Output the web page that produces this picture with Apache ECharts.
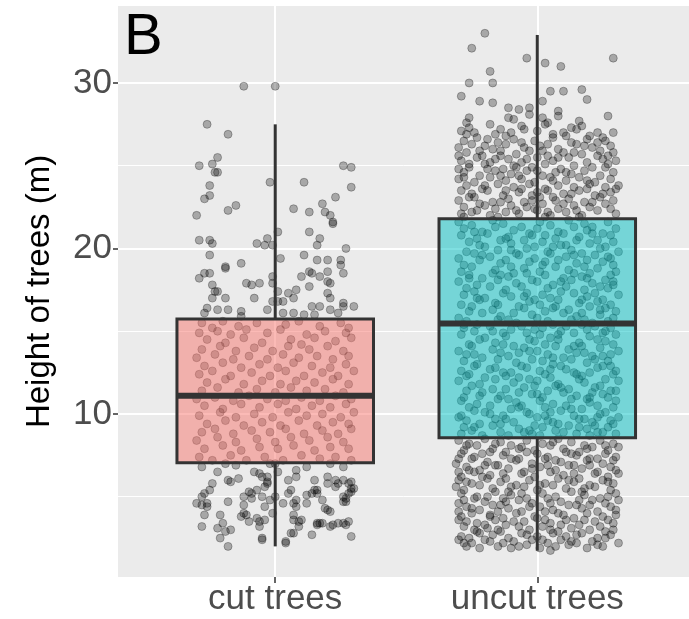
<!DOCTYPE html>
<html>
<head>
<meta charset="utf-8">
<script src="https://cdn.jsdelivr.net/npm/echarts@6/dist/echarts.min.js"></script>
<style>
  html, body { margin: 0; padding: 0; background: #fff; }
  #js-echarts { width: 689px; height: 619px; }
</style>
</head>
<body>
<div id="js-echarts"></div>
<script>
const categories = ['cut trees', 'uncut trees'];
const boxLow = [2.0, 1.74];
const boxQ1 = [7.06, 8.57];
const boxMed = [11.1, 15.46];
const boxQ3 = [15.74, 21.8];
const boxHigh = [27.5, 32.9];
const yTickValues = [10, 20, 30];
const yMinorValues = [5, 15, 25];
const xTickValues = [1, 2];

// jittered observations, [x position, height]
const cutPoints = [
  [0.88,29.8],[1.00,29.8],[0.74,27.5],[0.82,26.9],[0.78,25.5],[0.71,25.0],[0.76,25.1],[0.77,24.6],[0.78,24.6],[0.75,23.8],
  [0.75,23.2],[0.73,23.0],[0.70,22.0],[0.82,22.3],[0.85,22.6],[0.98,24.0],[1.11,24.0],[1.26,25.0],[1.29,24.9],[1.29,23.7],
  [1.23,23.1],[1.18,22.7],[1.19,22.2],[1.21,22.0],[1.22,21.5],[1.22,21.6],[1.07,22.4],[1.13,22.2],[1.01,21.0],[1.13,21.0],
  [1.17,20.6],[1.16,20.2],[1.27,20.0],[1.11,19.6],[1.16,19.3],[1.20,19.3],[1.25,19.3],[1.25,19.0],[1.26,18.5],[1.20,18.6],
  [1.13,18.6],[1.14,18.5],[1.10,18.3],[1.17,18.3],[1.20,18.0],[1.21,17.9],[1.13,17.7],[1.20,17.3],[1.21,17.0],[1.26,16.7],
  [1.30,16.5],[1.26,16.5],[1.21,16.3],[1.14,16.5],[1.17,16.5],[1.11,16.0],[1.15,16.0],[1.24,16.1],[0.71,20.5],[0.75,20.5],
  [0.76,20.3],[0.75,19.6],[0.87,19.1],[0.81,18.8],[0.81,18.9],[0.73,18.5],[0.75,18.5],[0.71,18.2],[0.76,17.8],[0.77,17.4],
  [0.78,17.4],[0.76,17.0],[0.81,17.0],[0.74,16.4],[0.78,16.3],[0.82,16.3],[0.73,16.1],[0.87,16.2],[0.87,15.9],[0.89,17.9],
  [0.91,17.8],[0.94,17.9],[0.92,17.0],[0.93,20.3],[0.96,20.2],[0.97,20.6],[0.99,20.2],[1.02,19.4],[0.99,18.3],[0.99,17.9],
  [1.01,17.4],[1.05,17.3],[1.07,17.0],[1.08,17.5],[0.99,16.8],[1.01,16.8],[1.03,16.8],[0.97,16.3],[1.03,16.1],[1.07,16.1],
  [0.72,15.5],[0.80,15.6],[0.86,15.3],[0.93,15.5],[1.04,15.4],[1.09,15.6],[1.17,15.3],[1.25,15.5],[1.28,15.2],[0.76,15.2],
  [0.71,14.9],[0.78,15.0],[0.83,14.8],[0.89,15.1],[0.97,14.9],[1.02,15.1],[1.12,14.8],[1.19,15.0],[1.27,14.9],
  [0.74,14.5],[0.81,14.3],[0.88,14.6],[0.95,14.3],[1.06,14.5],[1.10,14.2],[1.15,14.6],[1.23,14.4],[1.29,14.6],
  [0.72,13.9],[0.79,14.1],[0.85,13.8],[0.92,14.0],[0.99,13.8],[1.05,14.1],[1.13,13.9],[1.20,14.1],[1.26,13.8],
  [0.70,13.4],[0.77,13.6],[0.84,13.3],[0.90,13.5],[0.97,13.3],[1.03,13.6],[1.09,13.4],[1.16,13.5],[1.22,13.3],[1.28,13.5],
  [0.73,12.9],[0.80,13.1],[0.87,12.8],[0.94,13.0],[1.01,12.8],[1.07,13.1],[1.14,12.9],[1.21,12.8],[1.27,13.0],
  [0.71,12.4],[0.76,12.6],[0.83,12.3],[0.91,12.5],[0.98,12.3],[1.04,12.6],[1.11,12.3],[1.18,12.5],[1.24,12.3],[1.30,12.6],
  [0.74,11.9],[0.81,12.1],[0.88,11.8],[0.95,12.0],[1.02,11.8],[1.08,12.0],[1.15,11.9],[1.22,12.1],[1.28,11.8],
  [0.72,11.4],[0.78,11.6],[0.86,11.3],[0.93,11.5],[1.00,11.3],[1.06,11.6],[1.12,11.4],[1.19,11.5],[1.26,11.3],
  [0.70,10.9],[0.77,11.0],[0.84,10.8],[0.90,11.1],[0.97,10.9],[1.04,10.8],[1.10,11.0],[1.17,10.8],[1.23,11.1],[1.29,10.9],
  [0.73,10.5],[0.80,10.3],[0.87,10.6],[0.94,10.4],[1.01,10.6],[1.08,10.3],[1.14,10.5],[1.21,10.4],[1.27,10.6],
  [0.71,9.9],[0.79,10.1],[0.85,9.8],[0.92,10.0],[0.99,9.8],[1.05,10.1],[1.12,9.9],[1.18,10.0],[1.25,9.8],[1.30,10.1],
  [0.74,9.4],[0.81,9.6],[0.88,9.3],[0.95,9.5],[1.02,9.3],[1.09,9.6],[1.16,9.3],[1.22,9.5],[1.28,9.4],
  [0.72,8.9],[0.77,9.1],[0.84,8.8],[0.91,9.0],[0.98,8.9],[1.04,9.1],[1.11,8.8],[1.18,9.0],[1.24,8.8],[1.29,9.1],
  [0.70,8.4],[0.78,8.6],[0.85,8.3],[0.93,8.5],[1.00,8.3],[1.06,8.6],[1.13,8.4],[1.20,8.6],[1.26,8.3],
  [0.73,7.9],[0.80,8.1],[0.87,7.8],[0.94,8.0],[1.01,7.9],[1.07,8.1],[1.15,7.8],[1.21,8.0],[1.28,7.9],
  [0.71,7.4],[0.76,7.2],[0.83,7.5],[0.89,7.2],[0.96,7.4],[1.03,7.2],[1.10,7.5],[1.17,7.3],[1.23,7.4],[1.29,7.2],
  [0.72,6.8],[0.78,6.5],[0.76,5.8],[0.82,6.0],[0.83,5.9],[0.86,6.1],[0.85,6.9],[0.81,7.0],[0.92,6.5],[0.94,6.4],
  [0.95,6.2],[0.97,6.2],[0.97,5.8],[0.96,5.6],[0.98,7.0],[1.00,7.0],[1.01,6.5],[1.05,6.0],[1.08,6.2],[1.08,6.6],
  [1.12,6.8],[1.15,6.0],[1.16,5.4],[1.14,5.2],[1.20,6.2],[1.20,5.8],[1.23,6.0],[1.23,5.6],[1.26,6.0],[1.28,5.8],
  [1.29,5.9],[1.29,5.5],[1.28,5.2],[1.27,4.9],[1.26,4.7],[1.21,7.0],[1.26,6.8],[0.75,5.4],[0.73,5.2],[0.72,5.0],
  [0.74,4.6],[0.70,4.6],[0.72,4.5],[0.74,4.4],[0.82,4.7],[0.79,3.9],[0.73,3.9],[0.72,3.2],[0.78,3.1],[0.80,3.4],
  [0.83,3.0],[0.81,2.9],[0.79,2.5],[0.82,2.0],[0.88,5.0],[0.90,5.3],[0.91,4.9],[0.88,4.5],[0.91,5.2],[0.88,4.0],
  [0.89,3.9],[0.90,3.5],[0.87,3.8],[0.93,5.4],[0.95,5.0],[0.98,4.8],[0.96,4.4],[0.93,3.7],[0.94,3.5],[0.96,3.6],
  [0.94,3.2],[0.95,2.5],[0.99,4.0],[1.00,5.0],[0.97,5.9],[1.03,4.6],[1.05,5.2],[1.06,5.4],[1.07,4.6],[1.08,4.8],
  [1.08,4.4],[1.07,3.9],[1.07,3.6],[1.09,3.5],[1.10,3.6],[1.06,2.8],[1.07,2.8],[1.09,3.2],[1.04,2.3],[1.12,5.1],
  [1.12,4.6],[1.15,5.4],[1.16,5.2],[1.18,4.8],[1.19,4.3],[1.20,4.2],[1.21,4.1],[1.18,3.4],[1.16,3.3],[1.16,3.4],
  [1.14,2.7],[1.17,3.4],[1.24,5.8],[1.26,5.0],[1.27,4.7],[1.29,5.3],[1.30,5.5],[1.24,3.4],[1.26,3.4],[1.27,3.3],
  [1.28,3.5],[1.29,2.6],[1.21,3.2],[1.22,3.3],[1.04,2.2],[0.95,2.4]
];

const uncutPoints = [
  [1.80,33.0],[1.75,32.1],[1.96,31.5],[2.03,31.2],[2.09,31.0],[2.29,31.5],[1.82,30.7],[1.74,30.0],[1.83,30.0],[1.71,29.2],
  [1.78,28.9],[1.83,28.8],[2.05,29.5],[2.10,29.5],[2.17,29.6],[2.19,29.0],[2.02,28.9],[2.08,28.3],[2.08,28.0],[2.27,28.0],
  [1.89,28.5],[1.89,27.9],[1.93,28.4],[1.97,28.5],[1.97,28.1],[1.74,27.9],[1.73,27.6],[1.74,27.3],[1.82,27.5],[1.86,27.2],
  [1.90,27.0],[1.94,27.4],[1.95,27.2],[1.91,27.8],[2.02,27.9],[2.03,27.5],[2.04,27.6],[2.10,27.0],[2.13,27.3],[2.15,27.2],
  [2.16,27.7],[2.17,27.4],[2.23,27.0],[2.25,26.7],[1.76,27.0],[1.84,26.9],[2.00,27.1],[2.06,26.9],[2.20,26.8],[1.71,27.1],[2.29,27.0],
  [1.72,26.5],[1.77,26.7],[1.85,26.4],[1.91,26.6],[1.99,26.5],[2.06,26.7],[2.13,26.4],[2.19,26.6],[2.26,26.5],[1.80,26.2],
  [1.70,26.1],[1.75,26.3],[1.83,26.0],[1.88,26.3],[1.95,26.1],[2.01,26.2],[2.08,26.0],[2.15,26.3],[2.21,26.1],[2.28,26.2],[2.24,25.9],
  [1.73,25.8],[1.79,25.6],[1.86,25.9],[1.92,25.7],[1.97,25.9],[2.04,25.6],[2.10,25.8],[2.17,25.7],[2.23,25.6],[2.29,25.8],[1.70,25.6],
  [1.71,25.3],[1.77,25.5],[1.82,25.2],[1.89,25.4],[1.94,25.2],[2.00,25.5],[2.06,25.3],[2.12,25.5],[2.19,25.2],[2.25,25.4],[2.30,25.3],[1.86,25.6],
  [1.74,24.9],[1.80,25.1],[1.87,24.8],[1.91,25.0],[1.98,24.9],[2.03,25.1],[2.09,24.8],[2.14,25.0],[2.21,24.9],[2.27,25.1],[1.70,24.8],
  [1.72,24.6],[1.78,24.4],[1.84,24.7],[1.90,24.5],[1.96,24.7],[2.02,24.4],[2.07,24.6],[2.13,24.5],[2.18,24.7],[2.24,24.4],[2.29,24.6],[1.93,24.4],
  [1.70,24.2],[1.76,24.0],[1.82,24.3],[1.88,24.1],[1.94,24.2],[1.99,24.0],[2.05,24.3],[2.11,24.1],[2.16,24.3],[2.22,24.0],[2.28,24.2],
  [1.73,23.8],[1.79,23.6],[1.85,23.9],[1.91,23.7],[1.97,23.9],[2.03,23.6],[2.08,23.8],[2.14,23.7],[2.20,23.9],[2.26,23.7],[2.31,23.8],[1.71,23.5],
  [1.75,23.3],[1.81,23.5],[1.87,23.2],[1.93,23.4],[1.98,23.2],[2.04,23.5],[2.10,23.3],[2.16,23.5],[2.22,23.2],[2.28,23.4],
  [1.70,22.9],[1.76,23.1],[1.83,22.8],[1.89,23.0],[1.95,22.8],[2.01,23.1],[2.07,22.9],[2.12,23.0],[2.18,22.8],[2.24,23.1],[2.29,22.9],
  [1.72,22.5],[1.78,22.7],[1.84,22.4],[1.90,22.6],[1.96,22.5],[2.02,22.7],[2.08,22.4],[2.14,22.6],[2.20,22.5],[2.26,22.7],[1.99,22.4],
  [1.71,22.1],[1.77,22.3],[1.82,22.0],[1.88,22.2],[1.93,22.1],[2.00,22.3],[2.05,22.0],[2.11,22.2],[2.17,22.0],[2.23,22.3],[2.30,22.1],
  [1.73,26.9],[1.81,26.6],[1.88,26.8],[1.94,26.4],[2.04,26.3],[2.11,26.8],[2.18,26.2],[2.23,26.4],
  [1.74,25.1],[1.78,25.9],[1.84,25.4],[1.96,25.4],[2.02,25.9],[2.08,25.5],[2.14,25.8],[2.27,25.6],
  [1.72,24.3],[1.81,24.8],[1.86,24.4],[1.92,24.9],[2.00,24.7],[2.06,24.1],[2.11,24.6],[2.19,24.1],[2.26,24.9],
  [1.74,23.1],[1.80,23.8],[1.88,23.5],[1.94,23.6],[2.00,23.4],[2.06,23.1],[2.13,23.3],[2.19,23.6],[2.25,23.3],[2.30,23.6],
  [1.75,22.2],[1.80,22.6],[1.86,22.8],[1.92,22.3],[1.98,22.9],[2.04,22.2],[2.10,22.7],[2.15,22.3],[2.21,22.8],[2.28,22.4],
  [1.72,21.9],[1.85,21.9],[2.03,21.9],[2.16,21.9],
  [1.70,21.6],[1.75,21.4],[1.83,21.7],[1.87,21.5],[1.94,21.3],[2.01,21.6],[2.05,21.4],[2.12,21.7],[2.18,21.5],[2.21,21.3],[2.27,21.6],
  [1.72,21.2],[1.79,21.0],[1.84,21.3],[1.91,21.1],[1.97,20.9],[2.00,21.2],[2.08,21.0],[2.14,21.3],[2.19,21.1],[2.25,20.9],[2.30,21.2],
  [1.71,20.8],[1.77,20.6],[1.81,20.9],[1.89,20.7],[1.95,20.5],[2.03,20.8],[2.07,20.6],[2.10,20.9],[2.16,20.7],[2.23,20.5],[2.28,20.8],
  [1.74,20.4],[1.78,20.2],[1.86,20.5],[1.90,20.3],[1.99,20.1],[2.02,20.4],[2.09,20.2],[2.15,20.5],[2.20,20.3],[2.26,20.1],[2.29,20.4],
  [1.73,19.8],[1.80,20.1],[1.85,19.9],[1.92,19.7],[1.96,20.0],[2.04,19.8],[2.06,20.1],[2.13,19.9],[2.17,19.7],[2.24,20.0],[2.31,19.8],
  [1.70,19.4],[1.76,19.7],[1.82,19.5],[1.88,19.3],[1.93,19.6],[1.99,19.4],[2.05,19.7],[2.11,19.5],[2.19,19.3],[2.22,19.6],[2.28,19.4],
  [1.72,19.0],[1.78,19.3],[1.86,19.1],[1.90,18.9],[1.97,19.2],[2.02,19.0],[2.08,19.3],[2.15,19.1],[2.18,18.9],[2.25,19.2],[2.29,19.0],
  [1.71,18.6],[1.75,18.9],[1.84,18.7],[1.91,18.5],[1.95,18.8],[2.01,18.6],[2.07,18.9],[2.12,18.7],[2.20,18.5],[2.23,18.8],[2.30,18.6],
  [1.74,18.4],[1.79,18.2],[1.83,18.5],[1.89,18.3],[1.98,18.1],[2.03,18.4],[2.10,18.2],[2.14,18.5],[2.17,18.3],[2.26,18.1],[2.28,18.4],
  [1.70,18.0],[1.77,17.8],[1.85,18.1],[1.92,17.9],[1.94,17.7],[2.00,18.0],[2.06,17.8],[2.13,18.1],[2.21,17.9],[2.24,17.7],[2.29,18.0],
  [1.73,17.6],[1.76,17.4],[1.82,17.7],[1.88,17.5],[1.96,17.3],[2.04,17.6],[2.09,17.4],[2.11,17.7],[2.18,17.5],[2.22,17.3],[2.27,17.6],
  [1.72,17.2],[1.80,17.0],[1.87,17.3],[1.90,17.1],[1.99,16.9],[2.02,17.2],[2.05,17.0],[2.14,17.3],[2.19,17.1],[2.25,16.9],[2.31,17.2],
  [1.71,16.6],[1.78,16.9],[1.84,16.7],[1.93,16.5],[1.97,16.8],[2.01,16.6],[2.08,16.9],[2.16,16.7],[2.20,16.5],[2.23,16.8],[2.28,16.6],
  [1.74,16.2],[1.75,16.5],[1.83,16.3],[1.91,16.1],[1.95,16.4],[2.03,16.2],[2.07,16.5],[2.12,16.3],[2.17,16.1],[2.26,16.4],[2.30,16.2],
  [1.70,15.8],[1.79,16.1],[1.86,15.9],[1.89,15.7],[1.98,16.0],[2.00,15.8],[2.10,16.1],[2.15,15.9],[2.18,15.7],[2.24,16.0],[2.29,15.8],
  [1.73,15.6],[1.77,15.4],[1.85,15.7],[1.92,15.5],[1.94,15.3],[2.04,15.6],[2.06,15.4],[2.13,15.7],[2.21,15.5],[2.22,15.3],[2.27,15.6],
  [1.72,15.2],[1.76,15.0],[1.82,15.3],[1.90,15.1],[1.96,14.9],[2.02,15.2],[2.09,15.0],[2.11,15.3],[2.19,15.1],[2.25,14.9],[2.28,15.2],
  [1.71,14.8],[1.80,14.6],[1.87,14.9],[1.88,14.7],[1.97,14.5],[2.01,14.8],[2.05,14.6],[2.14,14.9],[2.20,14.7],[2.23,14.5],[2.30,14.8],
  [1.74,14.2],[1.78,14.5],[1.84,14.3],[1.91,14.1],[1.99,14.4],[2.03,14.2],[2.08,14.5],[2.16,14.3],[2.17,14.1],[2.26,14.4],[2.29,14.2],
  [1.70,13.8],[1.75,14.1],[1.83,13.9],[1.93,13.7],[1.95,14.0],[2.00,13.8],[2.07,14.1],[2.12,13.9],[2.18,13.7],[2.24,14.0],[2.31,13.8],
  [1.73,13.6],[1.79,13.4],[1.86,13.7],[1.89,13.5],[1.98,13.3],[2.04,13.6],[2.10,13.4],[2.15,13.7],[2.21,13.5],[2.22,13.3],[2.28,13.6],
  [1.72,13.2],[1.77,13.0],[1.85,13.3],[1.92,13.1],[1.94,12.9],[2.02,13.2],[2.06,13.0],[2.13,13.3],[2.19,13.1],[2.25,12.9],[2.27,13.2],
  [1.71,12.6],[1.76,12.9],[1.82,12.7],[1.90,12.5],[1.96,12.8],[2.01,12.6],[2.09,12.9],[2.11,12.7],[2.20,12.5],[2.23,12.8],[2.30,12.6],
  [1.74,12.4],[1.80,12.2],[1.87,12.5],[1.88,12.3],[1.97,12.1],[2.03,12.4],[2.05,12.2],[2.14,12.5],[2.17,12.3],[2.26,12.1],[2.29,12.4],
  [1.70,12.0],[1.78,11.8],[1.84,12.1],[1.91,11.9],[1.99,11.7],[2.00,12.0],[2.08,11.8],[2.16,12.1],[2.18,11.9],[2.24,11.7],[2.31,12.0],
  [1.73,11.4],[1.75,11.7],[1.83,11.5],[1.93,11.3],[1.95,11.6],[2.04,11.4],[2.07,11.7],[2.12,11.5],[2.21,11.3],[2.22,11.6],[2.28,11.4],
  [1.72,11.0],[1.79,11.3],[1.86,11.1],[1.89,10.9],[1.98,11.2],[2.02,11.0],[2.10,11.3],[2.15,11.1],[2.19,10.9],[2.25,11.2],[2.27,11.0],
  [1.71,10.8],[1.77,10.6],[1.85,10.9],[1.92,10.7],[1.94,10.5],[2.01,10.8],[2.06,10.6],[2.13,10.9],[2.20,10.7],[2.23,10.5],[2.30,10.8],
  [1.74,10.4],[1.76,10.2],[1.82,10.5],[1.90,10.3],[1.96,10.1],[2.03,10.4],[2.09,10.2],[2.11,10.5],[2.17,10.3],[2.26,10.1],[2.29,10.4],
  [1.70,9.8],[1.80,10.1],[1.87,9.9],[1.88,9.7],[1.97,10.0],[2.00,9.8],[2.05,10.1],[2.14,9.9],[2.18,9.7],[2.24,10.0],[2.31,9.8],
  [1.73,9.6],[1.78,9.4],[1.84,9.7],[1.91,9.5],[1.99,9.3],[2.04,9.6],[2.08,9.4],[2.16,9.7],[2.21,9.5],[2.22,9.3],[2.28,9.6],
  [1.72,9.2],[1.75,9.0],[1.83,9.3],[1.93,9.1],[1.95,8.9],[2.02,9.2],[2.07,9.0],[2.12,9.3],[2.19,9.1],[2.25,8.9],[2.27,9.2],
  [1.71,8.8],[1.79,8.7],[1.86,8.9],[1.89,8.7],[1.98,8.8],[2.01,8.7],[2.10,8.9],[2.15,8.8],[2.20,8.7],[2.23,8.9],[2.30,8.8],
  [1.76,21.0],[1.88,20.6],[1.98,20.8],[2.11,20.2],[2.21,20.9],[1.79,19.6],[1.90,19.9],[2.03,19.2],[2.14,19.6],[2.27,19.5],
  [1.74,18.2],[1.86,18.4],[1.96,18.5],[2.09,18.0],[2.19,18.2],[2.29,17.8],[1.77,17.0],[1.85,16.6],[1.95,17.1],[2.06,16.4],
  [2.17,16.9],[2.24,16.3],[1.72,15.4],[1.83,15.0],[1.99,15.1],[2.08,14.8],[2.17,15.4],[2.26,15.0],[1.76,13.6],[1.87,14.2],
  [1.97,13.8],[2.06,13.4],[2.14,14.1],[2.25,13.5],[1.73,12.3],[1.84,12.8],[1.93,12.2],[2.05,12.7],[2.15,12.4],[2.28,12.9],
  [1.78,11.1],[1.88,11.5],[2.00,11.2],[2.09,11.6],[2.20,11.0],[2.30,11.4],[1.71,9.9],[1.82,10.0],[1.93,10.4],[2.03,9.9],
  [2.13,10.3],[2.23,9.8],[1.76,9.2],[1.86,9.4],[1.97,9.0],[2.06,9.5],[2.16,9.2],[2.29,9.4],
  [1.70,8.4],[1.74,8.2],[1.80,8.5],[1.86,8.3],[1.90,8.1],[1.96,8.4],[2.02,8.2],[2.08,8.5],[2.13,8.3],[2.18,8.1],[2.24,8.4],[2.29,8.2],
  [1.72,7.8],[1.77,8.1],[1.83,7.9],[1.88,7.7],[1.94,8.0],[1.99,7.8],[2.05,8.1],[2.10,7.9],[2.16,7.7],[2.21,8.0],[2.27,7.8],[2.31,8.0],
  [1.71,7.6],[1.76,7.4],[1.82,7.7],[1.87,7.5],[1.93,7.3],[2.00,7.6],[2.04,7.4],[2.11,7.7],[2.15,7.5],[2.20,7.3],[2.26,7.6],[2.30,7.4],
  [1.69,7.0],[1.75,7.3],[1.81,7.1],[1.85,6.9],[1.92,7.2],[1.98,7.0],[2.03,7.3],[2.09,7.1],[2.14,6.9],[2.19,7.2],[2.25,7.0],[2.29,7.2],
  [1.73,6.8],[1.78,6.6],[1.84,6.9],[1.89,6.7],[1.95,6.5],[2.01,6.8],[2.07,6.6],[2.12,6.9],[2.17,6.7],[2.23,6.5],[2.28,6.8],[1.70,6.5],
  [1.71,6.2],[1.76,6.5],[1.82,6.3],[1.88,6.1],[1.94,6.4],[1.99,6.2],[2.05,6.5],[2.10,6.3],[2.16,6.1],[2.22,6.4],[2.27,6.2],[2.31,6.4],
  [1.70,6.0],[1.75,5.8],[1.81,6.1],[1.86,5.9],[1.92,5.7],[1.97,6.0],[2.03,5.8],[2.08,6.1],[2.14,5.9],[2.20,5.7],[2.25,6.0],[2.29,5.8],
  [1.72,5.4],[1.78,5.7],[1.83,5.5],[1.89,5.3],[1.95,5.6],[2.00,5.4],[2.06,5.7],[2.11,5.5],[2.17,5.3],[2.22,5.6],[2.28,5.4],[1.69,5.6],
  [1.71,5.2],[1.77,5.0],[1.84,5.3],[1.90,5.1],[1.96,4.9],[2.02,5.2],[2.07,5.0],[2.13,5.3],[2.18,5.1],[2.24,4.9],[2.30,5.2],[1.87,4.9],
  [1.70,4.6],[1.76,4.9],[1.80,4.7],[1.86,4.5],[1.93,4.8],[1.98,4.6],[2.04,4.9],[2.09,4.7],[2.15,4.5],[2.21,4.8],[2.26,4.6],[2.31,4.8],
  [1.73,4.4],[1.78,4.2],[1.83,4.5],[1.89,4.3],[1.94,4.1],[2.01,4.4],[2.06,4.2],[2.12,4.5],[2.17,4.3],[2.23,4.1],[2.28,4.4],[1.70,4.1],
  [1.71,3.8],[1.75,4.0],[1.82,3.9],[1.87,3.7],[1.92,4.0],[1.99,3.8],[2.03,4.1],[2.10,3.9],[2.14,3.7],[2.19,4.0],[2.25,3.8],[2.30,3.9],
  [1.70,3.6],[1.77,3.4],[1.84,3.6],[1.88,3.3],[1.95,3.5],[2.00,3.7],[2.05,3.4],[2.11,3.6],[2.16,3.3],[2.22,3.5],[2.27,3.6],[1.80,3.3],
  [1.72,3.2],[1.76,3.0],[1.81,3.1],[1.86,2.9],[1.93,3.2],[1.97,3.0],[2.02,3.2],[2.08,2.9],[2.13,3.1],[2.20,3.0],[2.24,3.2],[2.29,3.0],
  [1.71,2.6],[1.78,2.8],[1.83,2.7],[1.89,2.5],[1.94,2.8],[2.00,2.6],[2.06,2.8],[2.11,2.6],[2.17,2.8],[2.23,2.5],[2.28,2.7],[1.74,2.5],
  [1.70,2.4],[1.75,2.2],[1.80,2.4],[1.87,2.2],[1.91,2.3],[1.98,2.4],[2.04,2.2],[2.09,2.4],[2.15,2.2],[2.21,2.3],[2.26,2.5],[2.31,2.2],
  [1.73,2.0],[1.78,1.9],[1.85,2.0],[1.90,1.9],[1.96,2.1],[2.01,1.9],[2.07,2.0],[2.12,2.1],[2.19,1.9],[2.25,2.0],[2.05,1.75],
  [1.73,8.1],[1.84,8.2],[1.93,7.9],[2.06,8.3],[2.19,7.9],[2.26,8.1],[1.70,7.3],[1.79,7.6],[1.90,7.3],[1.96,7.7],
  [2.07,7.2],[2.13,7.6],[2.23,7.3],[1.74,6.6],[1.80,6.9],[1.87,6.4],[1.98,6.7],[2.04,6.9],[2.14,6.4],[2.20,6.9],
  [2.30,6.6],[1.73,5.9],[1.79,6.2],[1.90,5.6],[2.01,5.7],[2.12,6.0],[2.18,5.5],[2.27,5.9],[1.72,4.8],[1.81,5.0],
  [1.88,4.7],[1.94,5.2],[2.05,4.6],[2.16,4.8],[2.27,5.0],[1.75,4.3],[1.85,4.1],[1.97,4.4],[2.08,4.0],[2.20,4.5],
  [2.30,4.2],[1.73,3.5],[1.82,3.8],[1.91,3.5],[2.03,3.6],[2.09,3.3],[2.18,3.6],[2.29,3.4],[1.77,2.9],[1.85,3.0],
  [1.96,2.7],[2.05,3.0],[2.15,2.7],[2.26,2.9],[1.72,2.2],[1.82,2.3],[1.93,2.0],[2.02,2.4],[2.13,2.3],[2.23,2.1]
];

const chartDom = document.getElementById('js-echarts');
const chart = echarts.init(chartDom);
const theme = {
  panel: '#EBEBEB',
  grid: '#FFFFFF',
  line: '#333333',
  text: '#4D4D4D',
  fills: ['rgba(248,118,109,0.5)', 'rgba(0,191,196,0.5)'],
  dot: 'rgba(0,0,0,0.36)',
  dotEdge: 'rgba(0,0,0,0.34)'
};
const font = '"Liberation Sans", Arial, sans-serif';
const boxWidth = 0.75;

const boxData = categories.map((c, i) => [i + 1, boxLow[i], boxQ1[i], boxMed[i], boxQ3[i], boxHigh[i]]);

const gridLines = []
  .concat(yTickValues.map(v => ({ yAxis: v, lineStyle: { width: 2 } })))
  .concat(yMinorValues.map(v => ({ yAxis: v, lineStyle: { width: 1 } })))
  .concat(xTickValues.map(v => ({ xAxis: v, lineStyle: { width: 2 } })));

const dotStyle = { color: theme.dot, borderColor: theme.dotEdge, borderWidth: 1 };

const option = {
  animation: false,
  grid: {
    left: 118, right: 0, top: 6, bottom: 42,
    show: true, backgroundColor: theme.panel, borderWidth: 0
  },
  xAxis: {
    type: 'value',
    min: 0.4,
    max: 2.579,
    splitLine: { show: false },
    axisLine: { show: false },
    axisTick: { show: true, customValues: xTickValues, length: 6, lineStyle: { color: theme.line, width: 1.5 } },
    axisLabel: {
      customValues: xTickValues,
      formatter: v => categories[Math.round(v) - 1],
      color: theme.text, fontSize: 35, fontFamily: font, margin: 5
    }
  },
  yAxis: {
    type: 'value',
    min: 0.15,
    max: 34.65,
    name: 'Height of trees (m)',
    nameLocation: 'middle',
    nameRotate: 90,
    nameGap: 62,
    nameTextStyle: { color: '#000', fontSize: 33, fontFamily: font },
    splitLine: { show: false },
    axisLine: { show: false },
    axisTick: { show: true, customValues: yTickValues, length: 5, lineStyle: { color: theme.line, width: 1.5 } },
    axisLabel: {
      customValues: yTickValues,
      color: theme.text, fontSize: 35, fontFamily: font, margin: 6
    }
  },
  graphic: [{
    type: 'text', left: 124, top: 9,
    style: { text: 'B', font: '58px "Liberation Sans", Arial, sans-serif', fill: '#000' }
  }],
  series: [
    {
      type: 'scatter', data: [], z: 1, silent: true,
      markLine: {
        z: 1,
        silent: true, symbol: ['none', 'none'], label: { show: false },
        lineStyle: { color: theme.grid, type: 'solid' },
        data: gridLines
      }
    },
    {
      type: 'scatter', z: 2, symbolSize: 8, silent: true,
      itemStyle: dotStyle,
      data: cutPoints
    },
    {
      type: 'scatter', z: 2, symbolSize: 8, silent: true,
      itemStyle: dotStyle,
      data: uncutPoints
    },
    {
      type: 'custom', z: 3, silent: true,
      encode: { x: 0, y: [1, 2, 3, 4, 5] },
      data: boxData,
      renderItem: (params, api) => {
        const x = api.value(0);
        const hw = boxWidth / 2;
        const lo = api.coord([x, api.value(1)]);
        const q1 = api.coord([x, api.value(2)]);
        const md = api.value(3);
        const q3 = api.coord([x, api.value(4)]);
        const hi = api.coord([x, api.value(5)]);
        const tl = api.coord([x - hw, api.value(4)]);
        const br = api.coord([x + hw, api.value(2)]);
        const mL = api.coord([x - hw, md]);
        const mR = api.coord([x + hw, md]);
        const stroke = { stroke: theme.line, lineWidth: 3 };
        return {
          type: 'group',
          children: [
            { type: 'line', shape: { x1: hi[0], y1: hi[1], x2: q3[0], y2: q3[1] }, style: stroke },
            { type: 'line', shape: { x1: q1[0], y1: q1[1], x2: lo[0], y2: lo[1] }, style: stroke },
            { type: 'rect', shape: { x: tl[0], y: tl[1], width: br[0] - tl[0], height: br[1] - tl[1] },
              style: { fill: theme.fills[params.dataIndex], stroke: theme.line, lineWidth: 3 } },
            { type: 'line', shape: { x1: mL[0], y1: mL[1], x2: mR[0], y2: mR[1] },
              style: { stroke: theme.line, lineWidth: 6 } }
          ]
        };
      }
    }
  ]
};

chart.setOption(option);
</script>
</body>
</html>
